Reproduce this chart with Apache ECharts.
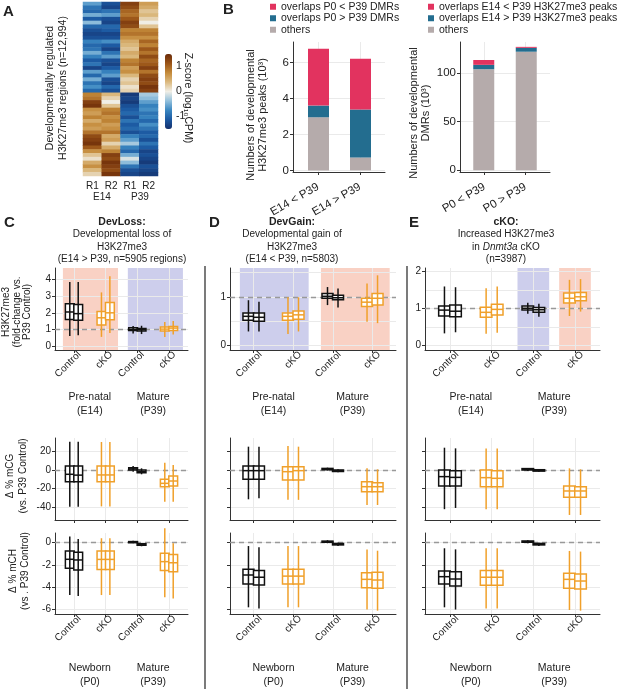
<!DOCTYPE html>
<html>
<head>
<meta charset="utf-8">
<script src="https://cdn.jsdelivr.net/npm/echarts@6/dist/echarts.min.js"></script>
<style>
  html, body { margin: 0; padding: 0; background: #fff; }
  #chart { width: 617px; height: 689px; }
</style>
</head>
<body>
<div id="chart"></div>
<script>
const FONT = 'Liberation Sans, Arial, Helvetica, sans-serif';

// ---------- A: heatmap, z-score per row (top -> bottom) ----------
const heatCols = ['E14 R1', 'E14 R2', 'P39 R1', 'P39 R2'];
const heatE14R1 = [-0.6,-0.9,-1.0,-0.5,-1.1,-0.4,-1.0,-1.2,-1.3,-1.2,-0.8,-1.0,-0.9,-0.5,-0.8,-1.1,-0.9,-1.3,-0.6,-1.0,-0.5,-0.9,-0.7,-1.0,
  0.8,0.9,1.3,1.4,0.7,0.6,0.8,0.5,0.7,0.6,0.9,1.2,1.3,1.4,1.1,0.7,0.3,0.1,0.5,0.7,0.4,0.2];
const heatE14R2 = [-1.2,-1.3,-0.9,-0.6,-1.2,-1.3,-1.0,-1.1,-1.3,-1.2,-0.7,-1.1,-1.3,-0.9,-0.6,-1.2,-1.3,-1.1,-0.8,-0.6,-1.2,-1.3,-1.0,-1.2,
  0.4,0.2,0.0,0.3,0.8,0.9,0.7,0.8,0.6,0.7,0.9,0.5,0.6,0.2,0.5,0.8,1.3,1.2,1.4,1.3,1.2,1.4];
const heatP39R1 = [1.3,1.2,1.0,0.9,1.1,1.3,1.2,0.8,0.9,0.7,0.5,0.4,0.3,0.5,0.4,0.8,0.9,0.6,0.7,0.4,0.2,0.3,0.1,0.2,
  -1.4,-1.3,-1.4,-1.2,-1.1,-1.0,-1.2,-0.9,-1.1,-1.0,-1.2,-0.8,-0.6,-0.3,-0.8,-1.0,-0.5,-0.1,-0.4,-0.9,-1.2,-1.3];
const heatP39R2 = [0.6,0.5,0.3,0.4,0.2,0.0,0.3,0.8,0.9,0.7,1.0,0.8,1.1,0.9,1.2,1.0,1.1,1.3,0.9,1.2,1.3,1.2,1.4,1.3,
  -0.3,-0.4,-0.6,-0.8,-0.7,-0.9,-0.8,-1.0,-0.7,-0.9,-1.1,-1.0,-1.2,-0.9,-1.1,-1.3,-1.2,-1.3,-1.4,-1.2,-1.3,-1.4];
const zTicks = [-1, 0, 1];

// ---------- B: stacked bars (10^3) ----------
const bLeftCats = ['E14 < P39', 'E14 > P39'];
const bLeftOthers = [2.95, 0.72];
const bLeftGt = [0.65, 2.66];   // overlaps P0 > P39 DMRs
const bLeftLt = [3.15, 2.82];   // overlaps P0 < P39 DMRs
const bLeftTicks = [0, 2, 4, 6];
const bRightCats = ['P0 < P39', 'P0 > P39'];
const bRightOthers = [104, 122];
const bRightGt = [4.5, 4];      // overlaps E14 > P39 H3K27me3 peaks
const bRightLt = [5, 1];        // overlaps E14 < P39 H3K27me3 peaks
const bRightTicks = [0, 50, 100];

// ---------- C-E: boxes [min, q1, median, q3, max]
// order: Control r1, Control r2, cKO r1, cKO r2 (early), Control r1, Control r2, cKO r1, cKO r2 (P39)
const boxCats = ['Control', 'cKO', 'Control', 'cKO'];
const cFold = [[0.6,1.6,2.05,2.55,3.85],[0.65,1.55,1.95,2.5,3.85],[0.55,1.27,1.7,2.08,3.23],[0.78,1.58,2.0,2.62,4.2],
  [0.75,0.93,1.0,1.1,1.2],[0.72,0.9,0.98,1.06,1.22],[0.55,0.9,1.02,1.15,1.45],[0.7,0.94,1.08,1.17,1.5]];
const dFold = [[0.29,0.52,0.6,0.67,0.93],[0.29,0.5,0.58,0.67,0.9],[0.24,0.52,0.6,0.67,0.99],[0.29,0.54,0.63,0.71,0.99],
  [0.83,0.97,1.01,1.07,1.2],[0.78,0.94,0.98,1.03,1.17],[0.49,0.8,0.89,0.97,1.27],[0.46,0.83,0.97,1.07,1.44]];
const eFold = [[0.33,0.8,0.96,1.07,1.6],[0.36,0.78,0.93,1.1,1.58],[0.32,0.77,0.9,1.04,1.55],[0.35,0.83,0.98,1.12,1.6],
  [0.86,0.96,1.01,1.07,1.16],[0.78,0.9,0.97,1.03,1.13],[0.8,1.15,1.28,1.42,1.78],[0.92,1.21,1.32,1.44,1.8]];
const cMCG = [[-39.3,-12.5,-4.6,4.3,30.3],[-39.3,-12.5,-5.5,4.3,30.3],[-39,-12.5,-5.3,4.3,30],[-39,-12.5,-5.3,4.3,30],
  [-1.8,0,1.2,2.5,4.3],[-4.6,-2.9,-1.5,0,1.8],[-34,-17.9,-14.3,-10,7.9],[-34,-17.1,-11.8,-6.4,5.4]];
const dMCG = [[-31.4,-10,-0.7,4.3,25],[-30.4,-10,-0.7,4.3,25],[-32,-10.7,-1.8,3.6,25.7],[-32,-10.7,-0.7,3.6,25],
  [-0.5,0.3,1,1.7,2.5],[-2.5,-1.6,-0.7,0,0.8],[-37.5,-23.2,-17.9,-12.5,1.8],[-37.5,-23.2,-17.9,-13.6,0.7]];
const eMCG = [[-42,-17.1,-7.1,0,23.9],[-40.7,-17.1,-7.9,-0.7,23.2],[-42,-17.9,-8.2,0,23],[-42,-17.9,-8.9,-0.7,23],
  [-1,0,0.7,1.5,2.2],[-2,-1.2,-0.4,0.3,1],[-48.2,-29.3,-22.5,-17.1,1.8],[-48.2,-29.3,-22.5,-17.9,0.7]];
const cMCH = [[-4.7,-2.3,-1.49,-0.74,0.55],[-4.78,-2.45,-1.55,-0.86,0.33],[-4.7,-2.4,-1.5,-0.74,0.4],[-4.7,-2.4,-1.5,-0.74,0.4],
  [-0.06,0.0,0.05,0.1,0.18],[-0.32,-0.24,-0.18,-0.1,-0.04],[-4.9,-2.5,-1.7,-0.95,1.3],[-5.0,-2.6,-1.8,-1.05,-0.05]];
const dMCH = [[-5.8,-3.7,-2.9,-2.39,-0.3],[-5.9,-3.8,-3.1,-2.5,-0.42],[-5.8,-3.7,-3.0,-2.39,-0.3],[-5.8,-3.7,-3.0,-2.39,-0.3],
  [-0.05,0.04,0.09,0.14,0.22],[-0.3,-0.2,-0.13,-0.07,0.0],[-6.0,-4.04,-3.29,-2.69,-0.6],[-6.1,-4.1,-3.35,-2.66,-0.72]];
const eMCH = [[-5.8,-3.7,-3.05,-2.54,-0.5],[-6.0,-3.88,-3.26,-2.6,-0.6],[-5.9,-3.83,-3.1,-2.5,-0.5],[-5.9,-3.83,-3.1,-2.5,-0.5],
  [-0.05,0.04,0.1,0.15,0.22],[-0.3,-0.2,-0.13,-0.07,0.0],[-6.04,-4.1,-3.29,-2.75,-0.74],[-6.1,-4.15,-3.44,-2.8,-0.8]];
const foldTicksC = [0, 1, 2, 3, 4];
const foldTicksD = [0, 1];
const foldTicksE = [0, 1, 2];
const mcgTicks = [-40, -20, 0, 20];
const mchTicks = [-6, -4, -2, 0];

// ---------- styles ----------
const PINK = '#E2335F', TEAL = '#236D8F', GREY = '#B5ABAB';
const BAND_PINK = '#F9D1C4', BAND_BLUE = '#CDCEEC';
const CONTROL_COLOR = '#111', CKO_COLOR = '#F0A02A';
const GRIDLINE = '#EAEAEA', AXIS = '#333', TXT = '#222';
const HEAT_COLORS = ['#14306c','#1b58a1','#3a87c1','#93c0dc','#f0eee6','#dcba80','#c48a3a','#9a5418','#6a2a08'];
const AXIS_LINE = {show: true, onZero: false, lineStyle: {color: AXIS, width: 1}};

const grid = [], xAxis = [], yAxis = [], series = [], graphic = [];

// ---------- A ----------
const heatRows = heatE14R1.map((_, i) => String(i));
const heatData = [];
[heatE14R1, heatE14R2, heatP39R1, heatP39R2].forEach((col, c) => col.forEach((v, r) => heatData.push([c, r, v])));
grid.push({left: 83, top: 2, width: 75, height: 174, outerBoundsMode: 'none'});
xAxis.push({type: 'category', gridIndex: 0, data: heatCols,
  axisLine: {show: false}, axisTick: {show: false}, splitLine: {show: false},
  axisLabel: {fontSize: 10, margin: 5, color: TXT, fontFamily: FONT, formatter: v => v.split(' ')[1]}});
yAxis.push({type: 'category', gridIndex: 0, data: heatRows, inverse: true, show: false});
series.push({type: 'heatmap', xAxisIndex: 0, yAxisIndex: 0, data: heatData, silent: true});

// colour bar tick axis
grid.push({left: 165, top: 54, width: 7, height: 75, outerBoundsMode: 'none'});
xAxis.push({type: 'value', gridIndex: 1, show: false, min: 0, max: 1});
yAxis.push({type: 'value', gridIndex: 1, min: -1.5, max: 1.5, position: 'right',
  axisLine: {show: false}, splitLine: {show: false},
  axisTick: {show: false, customValues: zTicks},
  axisLabel: {customValues: zTicks, fontSize: 10.5, margin: 4, color: TXT, fontFamily: FONT}});

// ---------- B ----------
// visible axes grid (value x for the ggplot-like expansion) + overlay grid holding the bars
function barPanel(box, barBox, cats, ticks, ymin, ymax) {
  const gi = grid.length;
  grid.push(Object.assign({outerBoundsMode: 'none'}, box));
  xAxis.push({type: 'value', gridIndex: gi, min: -0.6, max: 1.6, axisLine: AXIS_LINE,
    axisTick: {show: true, customValues: [0, 1], length: 3, lineStyle: {color: AXIS}},
    axisLabel: {customValues: [0, 1], formatter: v => cats[Math.round(v)], rotate: 30,
      margin: 14, fontSize: 11.5, color: TXT, fontFamily: FONT},
    splitLine: {show: true, lineStyle: {color: GRIDLINE}}});
  yAxis.push({type: 'value', gridIndex: gi, min: ymin, max: ymax, axisLine: AXIS_LINE,
    axisTick: {show: true, customValues: ticks, length: 3, lineStyle: {color: AXIS}},
    axisLabel: {customValues: ticks, fontSize: 11.5, margin: 4, color: TXT, fontFamily: FONT},
    splitLine: {show: true, lineStyle: {color: GRIDLINE}}});
  const bi = grid.length;
  grid.push(Object.assign({outerBoundsMode: 'none', top: box.top, height: box.height}, barBox));
  xAxis.push({type: 'category', gridIndex: bi, data: cats, show: false});
  yAxis.push({type: 'value', gridIndex: bi, min: ymin, max: ymax, show: false});
  return bi;
}
function stackBar(gi, name, vals, color, stack) {
  series.push({type: 'bar', name: name, xAxisIndex: gi, yAxisIndex: gi, stack: stack, barWidth: 21,
    itemStyle: {color: color}, silent: true, data: vals});
}
const bl = barPanel({left: 293, top: 42, width: 92, height: 130}, {left: 297.5, width: 84},
  bLeftCats, bLeftTicks, -0.09, 7.13);
stackBar(bl, 'others', bLeftOthers, GREY, 'bl');
stackBar(bl, 'overlaps P0 > P39 DMRs', bLeftGt, TEAL, 'bl');
stackBar(bl, 'overlaps P0 < P39 DMRs', bLeftLt, PINK, 'bl');
const br = barPanel({left: 460, top: 42, width: 90, height: 130}, {left: 462.5, width: 85},
  bRightCats, bRightTicks, -1.75, 132);
stackBar(br, 'others', bRightOthers, GREY, 'br');
stackBar(br, 'overlaps E14 > P39 H3K27me3 peaks', bRightGt, TEAL, 'br');
stackBar(br, 'overlaps E14 < P39 H3K27me3 peaks', bRightLt, PINK, 'br');

// ---------- C-E ----------
// per column: grid left / width and x extent in group-index units
const cols = [
  {left: 55, width: 133, xmin: -0.6, xmax: 3.6},
  {left: 230, width: 166, xmin: -0.6, xmax: 3.6},
  {left: 425, width: 175, xmin: -0.6, xmax: 3.6}
];
const rowBox = [{top: 268, height: 82}, {top: 438, height: 82}, {top: 533, height: 81}];
const panelData = [[cFold, dFold, eFold], [cMCG, dMCG, eMCG], [cMCH, dMCH, eMCH]];
const panelY = [
  [{min: -0.24, max: 4.7, ticks: foldTicksC, labels: true},
   {min: -0.09, max: 1.59, ticks: foldTicksD, minor: [0.5, 1.5], labels: true},
   {min: -0.12, max: 2.1, ticks: foldTicksE, minor: [0.5, 1.5], labels: true}],
  [{min: -53.6, max: 34.3, ticks: mcgTicks, labels: true},
   {min: -53.6, max: 34.3, ticks: mcgTicks, labels: false},
   {min: -53.6, max: 34.3, ticks: mcgTicks, labels: false}],
  [{min: -6.4, max: 0.87, ticks: mchTicks, labels: true},
   {min: -6.4, max: 0.87, ticks: mchTicks, labels: false},
   {min: -6.4, max: 0.87, ticks: mchTicks, labels: false}]
];
const refLine = [1, 0, 0];
const bands = [
  [[-0.35, 1.39, BAND_PINK], [1.7, 3.44, BAND_BLUE]],
  [[-0.35, 1.39, BAND_BLUE], [1.7, 3.44, BAND_PINK]],
  [[1.62, 2.38, BAND_BLUE], [2.62, 3.38, BAND_PINK]]
];
const LABEL_SHIFT = 0.17;

function boxRenderer(params, api) {
  const g = api.value(0), rep = api.value(1);
  const u = api.size([1, 0])[0];
  const off = 0.133 * u, hw = 0.139 * u;
  const xc = api.coord([g, 0])[0] + (rep ? 1 : -1) * off;
  const y = [2, 3, 4, 5, 6].map(k => api.coord([g, api.value(k)])[1]);
  const col = g % 2 === 0 ? CONTROL_COLOR : CKO_COLOR;
  const st = {stroke: col, lineWidth: 1.5, fill: 'transparent'};
  return {type: 'group', children: [
    {type: 'rect', shape: {x: xc - hw, y: y[3], width: 2 * hw, height: y[1] - y[3]}, style: {fill: '#fff'}},
    {type: 'line', shape: {x1: xc, y1: y[4], x2: xc, y2: y[0]}, style: st},
    {type: 'rect', shape: {x: xc - hw, y: y[3], width: 2 * hw, height: y[1] - y[3]}, style: st},
    {type: 'line', shape: {x1: xc - hw, y1: y[2], x2: xc + hw, y2: y[2]}, style: st}
  ]};
}

for (let r = 0; r < 3; r++) {
  for (let c = 0; c < 3; c++) {
    const gi = grid.length;
    const yc = panelY[r][c], cc = cols[c];
    const showX = r !== 1;
    grid.push({left: cc.left, top: rowBox[r].top, width: cc.width, height: rowBox[r].height, outerBoundsMode: 'none'});
    xAxis.push({type: 'value', gridIndex: gi, min: cc.xmin, max: cc.xmax, axisLine: AXIS_LINE,
      axisTick: {show: true, customValues: [0, 1, 2, 3], length: 3, lineStyle: {color: AXIS}},
      axisLabel: {show: showX, customValues: [0, 1, 2, 3].map(v => v + LABEL_SHIFT),
        formatter: v => boxCats[Math.round(v - LABEL_SHIFT)], rotate: 45, margin: 3,
        fontSize: 10, color: TXT, fontFamily: FONT},
      splitLine: {show: true, lineStyle: {color: GRIDLINE}}});
    yAxis.push({type: 'value', gridIndex: gi, min: yc.min, max: yc.max, axisLine: AXIS_LINE,
      axisTick: {show: true, customValues: yc.ticks, length: 3, lineStyle: {color: AXIS}},
      axisLabel: {show: yc.labels, customValues: yc.ticks, fontSize: 10, margin: 4, color: TXT, fontFamily: FONT},
      splitLine: {show: true, lineStyle: {color: GRIDLINE}}});
    const yIdx = yAxis.length - 1, xIdx = xAxis.length - 1;
    if (yc.minor) {
      yAxis.push({type: 'value', gridIndex: gi, min: yc.min, max: yc.max, position: 'left',
        axisLine: {show: false}, axisLabel: {show: false},
        axisTick: {show: false, customValues: yc.minor},
        splitLine: {show: true, lineStyle: {color: GRIDLINE}}});
    }
    const data = [];
    panelData[r][c].forEach((b, i) => data.push([Math.floor(i / 2), i % 2].concat(b)));
    const s = {type: 'custom', xAxisIndex: xIdx, yAxisIndex: yIdx, renderItem: boxRenderer, silent: true,
      encode: {x: 0, y: [2, 3, 4, 5, 6]}, data: data, z: 3,
      markLine: {silent: true, symbol: 'none', z: 1, label: {show: false},
        lineStyle: {color: '#999', type: [5, 4], width: 1.3},
        data: [{yAxis: refLine[r]}]}};
    if (r === 0) {
      s.markArea = {silent: true, z: -1, itemStyle: {opacity: 1},
        data: bands[c].map(b => [{xAxis: b[0], itemStyle: {color: b[2]}}, {xAxis: b[1]}])};
    }
    series.push(s);
  }
}

// ---------- texts ----------
function txt(x, y, text, o) {
  o = o || {};
  graphic.push({type: 'text', x: x, y: y, rotation: o.rot || 0, silent: true,
    style: {text: text, fill: TXT, fontSize: o.size || 10, fontFamily: FONT, fontWeight: o.bold ? 'bold' : 'normal',
      lineHeight: o.lh || 12, textAlign: o.align || 'center', align: o.align || 'center',
      textVerticalAlign: 'middle', verticalAlign: 'middle', rich: o.rich}});
}
// panel letters
txt(3, 12, 'A', {size: 15, bold: true, align: 'left'});
txt(223, 10, 'B', {size: 15, bold: true, align: 'left'});
txt(4, 223, 'C', {size: 15, bold: true, align: 'left'});
txt(209, 223, 'D', {size: 15, bold: true, align: 'left'});
txt(409, 223, 'E', {size: 15, bold: true, align: 'left'});
// A
txt(56.5, 88, 'Developmentally regulated\nH3K27me3 regions (n=12,994)', {size: 10.5, lh: 13, rot: Math.PI / 2});
txt(102, 197, 'E14', {size: 10});
txt(140, 197, 'P39', {size: 10});
txt(188, 98, 'Z-score (log\u2081\u2080CPM)', {size: 10.5, rot: -Math.PI / 2});
// B
txt(257, 115, 'Numbers of developmental\nH3K27me3 peaks (10\u00b3)', {size: 11, lh: 12, rot: Math.PI / 2});
txt(420, 113, 'Numbers of developmental\nDMRs (10\u00b3)', {size: 11, lh: 12, rot: Math.PI / 2});
// C-E titles
const titleX = [122, 292, 506];
txt(titleX[0], 222, 'DevLoss:', {size: 10.5, bold: true});
txt(titleX[0], 247, 'Developmental loss of\nH3K27me3\n(E14 > P39, n=5905 regions)', {size: 10, lh: 12.7});
txt(titleX[1], 222, 'DevGain:', {size: 10.5, bold: true});
txt(titleX[1], 247, 'Developmental gain of\nH3K27me3\n(E14 < P39, n=5803)', {size: 10, lh: 12.7});
txt(titleX[2], 222, 'cKO:', {size: 10.5, bold: true});
txt(titleX[2], 247, 'Increased H3K27me3\n{n|in }{i|Dnmt3a}{n| cKO}\n(n=3987)', {size: 10, lh: 12.7,
  rich: {n: {fontSize: 10, fontFamily: FONT, lineHeight: 12.7, fill: TXT},
         i: {fontSize: 10, fontFamily: FONT, fontStyle: 'italic', lineHeight: 12.7, fill: TXT}}});
// row titles
txt(17, 312, 'H3K27me3\n(fold-change vs.\nP39 Control)', {size: 10, lh: 10.5, rot: Math.PI / 2});
txt(16.5, 476, '\u0394 % mCG\n(vs. P39 Control)', {size: 10, lh: 12.5, rot: Math.PI / 2});
txt(19, 571, '\u0394 % mCH\n(vs . P39 Control)', {size: 10, lh: 12, rot: Math.PI / 2});
// group labels, centred between the two groups of each stage
cols.forEach(cc => {
  const u = cc.width / (cc.xmax - cc.xmin);
  const at = v => cc.left + (v - cc.xmin) * u;
  txt(at(0.5), 404, 'Pre-natal\n(E14)', {size: 10.5, lh: 14});
  txt(at(2.5), 404, 'Mature\n(P39)', {size: 10.5, lh: 14});
  txt(at(0.5), 675, 'Newborn\n(P0)', {size: 10.5, lh: 14});
  txt(at(2.5), 675, 'Mature\n(P39)', {size: 10.5, lh: 14});
});
// panel dividers
[205, 407].forEach(x => graphic.push({type: 'line', silent: true,
  shape: {x1: x, y1: 266, x2: x, y2: 689}, style: {stroke: '#222', lineWidth: 1.2}}));

const legendBase = {orient: 'vertical', top: 1, padding: 0, itemWidth: 6, itemHeight: 6, itemGap: 0,
  icon: 'rect', selectedMode: false,
  textStyle: {fontSize: 10.5, lineHeight: 11.5, color: TXT, fontFamily: FONT}};

const chart = echarts.init(document.getElementById('chart'));
chart.setOption({
  animation: false,
  backgroundColor: '#fff',
  textStyle: {fontFamily: FONT},
  grid: grid, xAxis: xAxis, yAxis: yAxis, series: series, graphic: graphic,
  legend: [
    Object.assign({}, legendBase, {left: 270, data: ['overlaps P0 < P39 DMRs', 'overlaps P0 > P39 DMRs', 'others']}),
    Object.assign({}, legendBase, {left: 428, data: ['overlaps E14 < P39 H3K27me3 peaks', 'overlaps E14 > P39 H3K27me3 peaks', 'others']})
  ],
  visualMap: {type: 'continuous', seriesIndex: 0, min: -1.5, max: 1.5, left: 165, top: 54,
    itemWidth: 7, itemHeight: 75, calculable: false, padding: 0, hoverLink: false,
    inRange: {color: HEAT_COLORS}}
});
</script>
</body>
</html>
